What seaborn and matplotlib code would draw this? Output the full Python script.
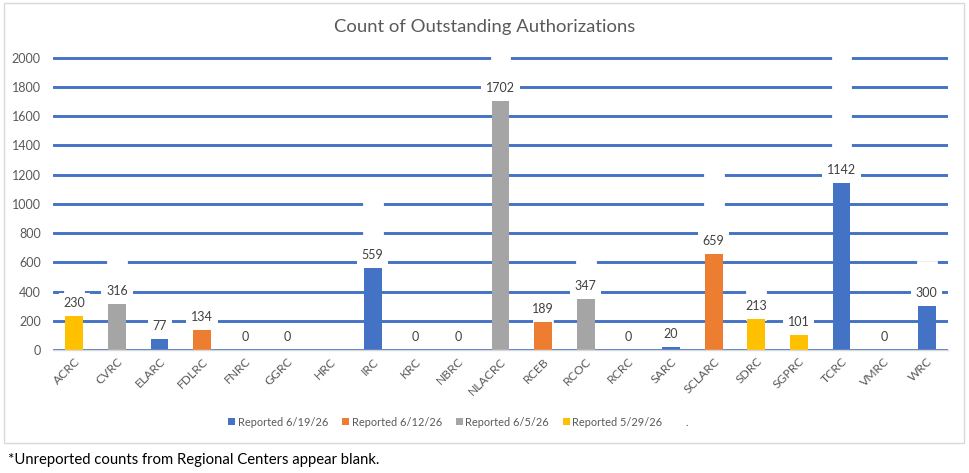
import numpy as np
import pandas as pd
import matplotlib
matplotlib.use("Agg")
import matplotlib.pyplot as plt
from matplotlib.patches import Patch, Rectangle
import seaborn as sns

# ---------------- data ----------------
categories = ["ACRC", "CVRC", "ELARC", "FDLRC", "FNRC", "GGRC", "HRC", "IRC", "KRC",
              "NBRC", "NLACRC", "RCEB", "RCOC", "RCRC", "SARC", "SCLARC", "SDRC",
              "SGPRC", "TCRC", "VMRC", "WRC"]
nan = np.nan
rep_0619 = [nan, nan, 77, nan, 0, 0, nan, 559, 0, 0, nan, nan, nan, 0, 20, nan, nan, nan, 1142, 0, 300]
rep_0612 = [nan, nan, nan, 134, nan, nan, nan, nan, nan, nan, nan, 189, nan, nan, nan, 659, nan, nan, nan, nan, nan]
rep_0605 = [nan, 316, nan, nan, nan, nan, nan, nan, nan, nan, 1702, nan, 347, nan, nan, nan, nan, nan, nan, nan, nan]
rep_0529 = [230, nan, nan, nan, nan, nan, nan, nan, nan, nan, nan, nan, nan, nan, nan, nan, 213, 101, nan, nan, nan]
series_names = ["Reported 6/19/26", "Reported 6/12/26", "Reported 6/5/26", "Reported 5/29/26", "."]
series_colors = ["#4472C4", "#ED7D31", "#A5A5A5", "#FFC000", "#FFFFFF"]
y_ticks = [0, 200, 400, 600, 800, 1000, 1200, 1400, 1600, 1800, 2000]
title = "Count of Outstanding Authorizations"
footnote = "*Unreported counts from Regional Centers appear blank."

# ---------------- build tables ----------------
df = pd.DataFrame({"category": categories,
                   series_names[0]: rep_0619, series_names[1]: rep_0612,
                   series_names[2]: rep_0605, series_names[3]: rep_0529})
long = df.melt(id_vars="category", var_name="series", value_name="value").dropna()
# the invisible "." series in the source is the total, stacked on top
df["total"] = df[series_names[:4]].sum(axis=1, min_count=1)
white = df.loc[df["total"] > 0, ["category", "total"]]

sns.set_theme(style="white")
FONT = ["Lato", "DejaVu Sans"]
plt.rcParams["font.family"] = FONT

W, H = 969, 473
fig = plt.figure(figsize=(W / 100, H / 100), dpi=100)
ymax = 2020
px_per = (350 - 57.7) / 2000
top_px = 350 - ymax * px_per
ax = fig.add_axes([53 / W, (H - 350) / H, (948 - 53) / W, (350 - top_px) / H])

palette = dict(zip(series_names[:4], series_colors[:4]))
# white stacked "." series
sns.barplot(data=white, x="category", y="total", bottom=white["total"].values, color="white",
            width=0.42, ax=ax, saturation=1, order=categories, zorder=2,
            linewidth=2.0, edgecolor="white", errorbar=None)
sns.barplot(data=long, x="category", y="value", hue="series", order=categories,
            hue_order=series_names[:4], palette=palette, dodge=False, width=0.42,
            saturation=1, ax=ax, legend=False, zorder=3, linewidth=0, errorbar=None)

ax.set_ylim(0, ymax)
ax.set_xlim(-0.5, len(categories) - 0.5)
ax.set_yticks(y_ticks)
ax.yaxis.grid(True, color="#4472C4", linewidth=2.1, zorder=0)
ax.xaxis.grid(False)
ax.set_axisbelow(True)
for s in ["top", "right", "left"]:
    ax.spines[s].set_visible(False)
ax.spines["bottom"].set_color("#D9D9D9")
ax.spines["bottom"].set_linewidth(1.0)
ax.spines["bottom"].set_zorder(4)
ax.set_xlabel("")
ax.set_ylabel("")
ax.tick_params(axis="both", length=0)
ax.tick_params(axis="y", pad=8.8, labelsize=9.0, labelcolor="#595959")
ax.tick_params(axis="x", pad=4, labelsize=8.7, labelcolor="#595959")
for lab in ax.get_yticklabels():
    lab.set_fontfamily(FONT)
for lab in ax.get_xticklabels():
    lab.set_rotation(45)
    lab.set_ha("right")
    lab.set_va("top")
    lab.set_rotation_mode("anchor")
    lab.set_fontfamily(FONT)

# data labels with white boxes
for i, v in enumerate(df["total"].values):
    if np.isnan(v):
        continue
    ax.annotate(f"{int(v)}", xy=(i, v), xytext=(0, 5.0), textcoords="offset points",
                ha="center", va="bottom", fontsize=9.0, color="#404040", family=FONT,
                zorder=5, annotation_clip=False,
                bbox=dict(boxstyle="square,pad=0.38", fc="white", ec="none"))

# legend
handles = [Patch(facecolor=c, edgecolor="none") for c in series_colors]
fig.legend(handles, series_names, loc="center left", bbox_to_anchor=(226 / W, 1 - 422 / H),
           ncol=5, frameon=False, handlelength=0.66, handleheight=0.66,
           handletextpad=0.22, columnspacing=1.25, borderpad=0.2, borderaxespad=0,
           labelcolor="#595959", prop={"family": FONT, "size": 7.9})

# title & footnote
fig.text(485 / W, 1 - 27 / H, title, ha="center", va="center", fontsize=13.3,
         color="#595959", family=FONT)
fig.text(8 / W, 1 - 460 / H, footnote, ha="left", va="center", fontsize=10.75,
         color="#000000", family=FONT)

# chart border
fig.patches.append(Rectangle((4 / W, 1 - 443 / H), (964 - 4) / W, (443 - 3) / H,
                             transform=fig.transFigure, fill=False, ec="#D9D9D9", lw=1.0))

fig.savefig("out.png", dpi=100)
